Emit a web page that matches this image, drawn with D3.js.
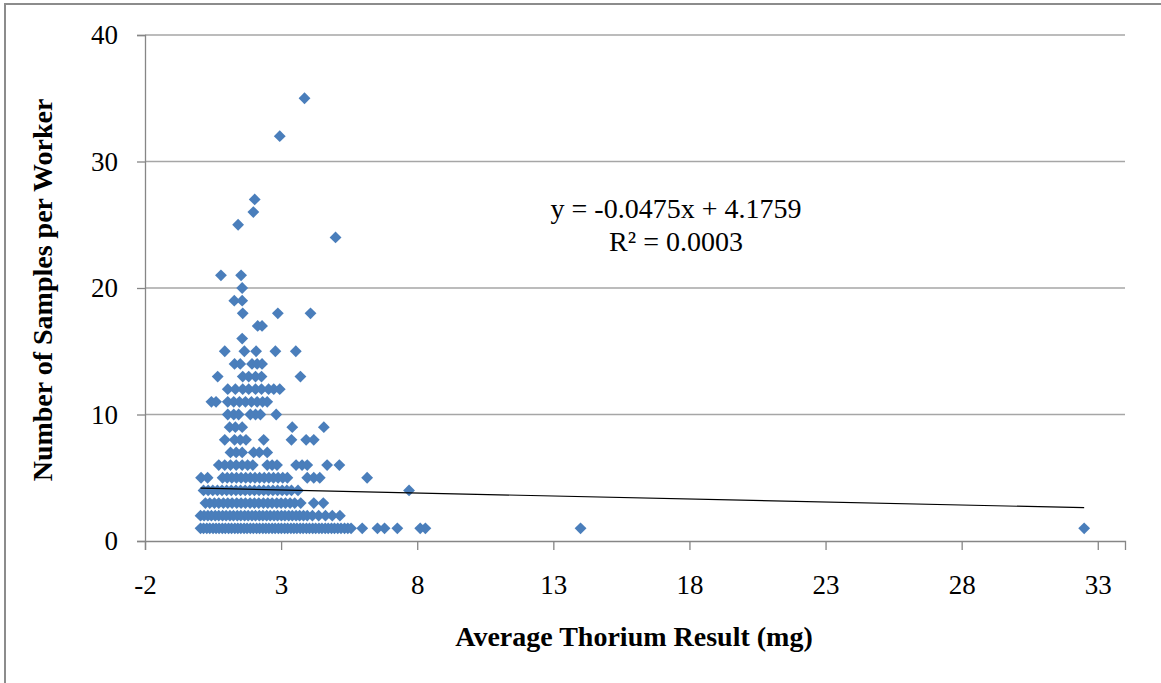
<!DOCTYPE html>
<html>
<head>
<meta charset="utf-8">
<script src="https://cdn.jsdelivr.net/npm/d3@7"></script>
<style>
  html, body { margin: 0; padding: 0; background: #fff; }
  svg { display: block; }
</style>
</head>
<body>
<div id="chart"></div>
<script>
// ---- Data ----
// Average thorium result (mg) per worker
const avgThorium = [
  3.86,
  2.95,
  2.03, 1.98, 1.42,
  5.00,
  0.79, 1.53,
  1.57,
  1.28, 1.57,
  1.59, 2.88, 4.08,
  2.14, 2.30,
  1.57,
  0.93, 1.65, 2.08, 2.79, 3.54,
  1.29, 1.50, 1.93, 2.12, 2.30,
  0.67, 1.59, 1.81, 2.06, 2.28, 3.71,
  1.04, 1.32, 1.59, 1.81, 2.06, 2.28, 2.54, 2.73, 2.95,
  0.44, 0.61, 1.04, 1.26, 1.47, 1.69, 1.91, 2.12, 2.32, 2.49,
  1.04, 1.26, 1.44, 1.87, 2.06, 2.24, 2.82,
  1.11, 1.32, 1.57, 3.41, 4.57,
  0.93, 1.29, 1.50, 1.71, 2.36, 3.38, 3.92, 4.20,
  1.14, 1.35, 1.57, 1.99, 2.20, 2.49,
  0.71, 0.93, 1.14, 1.35, 1.57, 1.77, 1.96, 2.49, 2.67, 2.85, 3.55, 3.77, 3.96, 4.69, 5.14,
  0.06, 0.30, 0.85, 1.02, 1.19, 1.36, 1.53, 1.70, 1.87, 2.04, 2.21, 2.38, 2.55, 2.72, 2.89, 3.06, 3.23, 3.96, 4.20, 4.42, 6.16,
  0.15, 0.32, 0.49, 0.66, 0.83, 1.00, 1.17, 1.34, 1.51, 1.68, 1.85, 2.02, 2.19, 2.36, 2.53, 2.70, 2.87, 3.04, 3.21, 3.38, 3.62, 7.70,
  0.22, 0.38, 0.55, 0.71, 0.88, 1.04, 1.20, 1.37, 1.53, 1.69, 1.86, 2.02, 2.18, 2.35, 2.51, 2.67, 2.84, 3.00, 3.16, 3.33, 3.50, 3.72, 4.20, 4.55,
  0.04, 0.17, 0.31, 0.44, 0.58, 0.71, 0.85, 0.98, 1.12, 1.25, 1.39, 1.52, 1.66, 1.79, 1.93, 2.06, 2.20, 2.33, 2.47, 2.60, 2.74, 2.87, 3.01, 3.14, 3.28, 3.41, 3.55, 3.68, 3.82, 3.96, 4.15, 4.38, 4.63, 4.88, 5.16,
  0.04, 0.15, 0.27, 0.38, 0.50, 0.61, 0.72, 0.84, 0.95, 1.07, 1.18, 1.30, 1.41, 1.52, 1.64, 1.75, 1.87, 1.98, 2.10, 2.21, 2.33, 2.44, 2.55, 2.67, 2.78, 2.90, 3.01, 3.13, 3.24, 3.36, 3.47, 3.58, 3.70, 3.81, 3.93, 4.04, 4.16, 4.27, 4.39, 4.50, 4.62, 4.73, 4.85, 4.96, 5.08, 5.20, 5.33, 5.45, 5.57, 5.98, 6.54, 6.80, 7.27, 8.11, 8.30, 14.00, 32.50
];
// Number of samples per worker (same order as avgThorium)
const samplesPerWorker = [
  35,
  32,
  27, 26, 25,
  24,
  21, 21,
  20,
  19, 19,
  18, 18, 18,
  17, 17,
  16,
  15, 15, 15, 15, 15,
  14, 14, 14, 14, 14,
  13, 13, 13, 13, 13, 13,
  12, 12, 12, 12, 12, 12, 12, 12, 12,
  11, 11, 11, 11, 11, 11, 11, 11, 11, 11,
  10, 10, 10, 10, 10, 10, 10,
  9, 9, 9, 9, 9,
  8, 8, 8, 8, 8, 8, 8, 8,
  7, 7, 7, 7, 7, 7,
  6, 6, 6, 6, 6, 6, 6, 6, 6, 6, 6, 6, 6, 6, 6,
  5, 5, 5, 5, 5, 5, 5, 5, 5, 5, 5, 5, 5, 5, 5, 5, 5, 5, 5, 5, 5,
  4, 4, 4, 4, 4, 4, 4, 4, 4, 4, 4, 4, 4, 4, 4, 4, 4, 4, 4, 4, 4, 4,
  3, 3, 3, 3, 3, 3, 3, 3, 3, 3, 3, 3, 3, 3, 3, 3, 3, 3, 3, 3, 3, 3, 3, 3,
  2, 2, 2, 2, 2, 2, 2, 2, 2, 2, 2, 2, 2, 2, 2, 2, 2, 2, 2, 2, 2, 2, 2, 2, 2, 2, 2, 2, 2, 2, 2, 2, 2, 2, 2,
  1, 1, 1, 1, 1, 1, 1, 1, 1, 1, 1, 1, 1, 1, 1, 1, 1, 1, 1, 1, 1, 1, 1, 1, 1, 1, 1, 1, 1, 1, 1, 1, 1, 1, 1, 1, 1, 1, 1, 1, 1, 1, 1, 1, 1, 1, 1, 1, 1, 1, 1, 1, 1, 1, 1, 1, 1
];
const xTicks = [-2, 3, 8, 13, 18, 23, 28, 33];
const yTicks = [0, 10, 20, 30, 40];
const xDomain = [-2, 34];
const yDomain = [0, 40];
const trendSlope = -0.0475;
const trendIntercept = 4.1759;
const equationLabel = "y = -0.0475x + 4.1759";
const r2Label = "R² = 0.0003";
const xTitle = "Average Thorium Result (mg)";
const yTitle = "Number of Samples per Worker";

// ---- Drawing ----
const W = 1161, H = 683;
const svg = d3.select("#chart").append("svg").attr("width", W).attr("height", H);

// outer chart frame
svg.append("rect").attr("x", 5).attr("y", 4).attr("width", 1220).attr("height", 720)
  .attr("fill", "#fff").attr("stroke", "#8c8c8c").attr("stroke-width", 2);

const x = d3.scaleLinear().domain(xDomain).range([145, 1125]);
const y = d3.scaleLinear().domain(yDomain).range([541, 35]);

const serif = "'Liberation Serif', 'Times New Roman', serif";

// gridlines
svg.append("g").selectAll("line").data(yTicks.filter(d => d > 0)).join("line")
  .attr("x1", x(xDomain[0])).attr("x2", x(xDomain[1]))
  .attr("y1", d => y(d)).attr("y2", d => y(d))
  .attr("stroke", "#a6a6a6").attr("stroke-width", 1.3);

// y axis
const yAxis = svg.append("g").attr("transform", `translate(${x(xDomain[0])},0)`)
  .call(d3.axisLeft(y).tickValues(yTicks).tickSize(8).tickPadding(19).tickFormat(d => String(d)));
yAxis.select(".domain").attr("stroke", "#868686").attr("stroke-width", 1.3);
yAxis.selectAll(".tick line").attr("stroke", "#868686").attr("stroke-width", 1.3);
yAxis.selectAll(".tick text").attr("font-family", serif).attr("font-size", 27).attr("fill", "#000");

// x axis
const xAxis = svg.append("g").attr("transform", `translate(0,${y(0)})`)
  .call(d3.axisBottom(x).tickValues(xTicks).tickSize(9).tickPadding(25).tickFormat(d => String(d)));
xAxis.select(".domain").attr("stroke", "#868686").attr("stroke-width", 1.3);
xAxis.selectAll(".tick line").attr("stroke", "#868686").attr("stroke-width", 1.3);
xAxis.selectAll(".tick text").attr("font-family", serif).attr("font-size", 27).attr("fill", "#000");

// diamond symbol (square rotated 45 degrees)
const diamond = {
  draw(ctx, size) {
    const r = Math.sqrt(size / 2);
    ctx.moveTo(0, -r); ctx.lineTo(r, 0); ctx.lineTo(0, r); ctx.lineTo(-r, 0); ctx.closePath();
  }
};
const pts = avgThorium.map((v, i) => ({ x: v, y: samplesPerWorker[i] }));
svg.append("g").selectAll("path").data(pts).join("path")
  .attr("transform", d => `translate(${x(d.x)},${y(d.y)})`)
  .attr("d", d3.symbol().type(diamond).size(70))
  .attr("fill", "#4a7ebb");

// linear trendline over data range
const xMin = d3.min(avgThorium), xMax = d3.max(avgThorium);
const trend = [xMin, xMax].map(v => [x(v), y(trendSlope * v + trendIntercept)]);
svg.append("path").attr("d", d3.line()(trend)).attr("fill", "none")
  .attr("stroke", "#000").attr("stroke-width", 1.2);

// equation labels
svg.append("text").attr("x", 676).attr("y", 218).attr("text-anchor", "middle")
  .attr("font-family", serif).attr("font-size", 28).text(equationLabel);
svg.append("text").attr("x", 676).attr("y", 251).attr("text-anchor", "middle")
  .attr("font-family", serif).attr("font-size", 28).text(r2Label);

// axis titles
svg.append("text").attr("x", 634).attr("y", 646).attr("text-anchor", "middle")
  .attr("font-family", serif).attr("font-weight", "bold").attr("font-size", 28)
  .text(xTitle);
svg.append("text").attr("transform", "translate(52,290) rotate(-90)").attr("text-anchor", "middle")
  .attr("font-family", serif).attr("font-weight", "bold").attr("font-size", 28)
  .text(yTitle);
</script>
</body>
</html>
